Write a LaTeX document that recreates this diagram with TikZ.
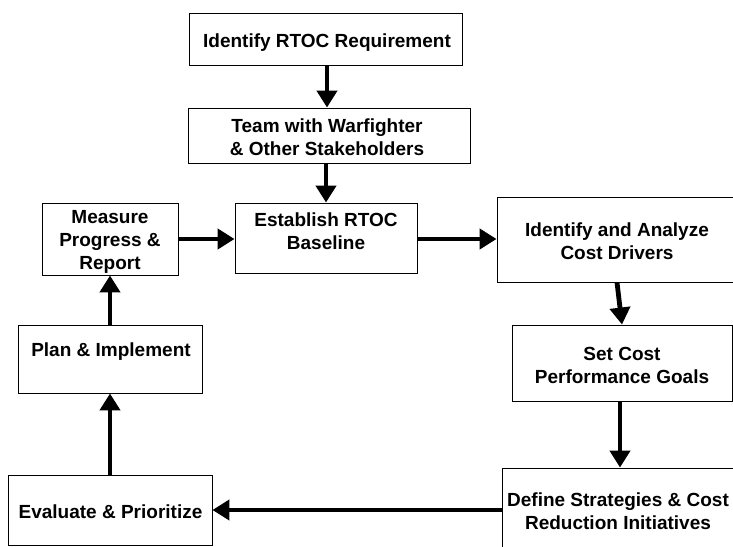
\documentclass[tikz,border=0pt]{standalone}
\usepackage{fontspec}
\setmainfont{Liberation Sans}
\usetikzlibrary{arrows.meta}
\begin{document}
\begin{tikzpicture}[x=1pt,y=1pt,
  box/.style={draw=black, line width=0.9pt, rectangle, inner sep=0pt},
  lbl/.style={align=center, inner sep=0pt, font=\fontsize{19}{23}\selectfont\bfseries},
  arr/.style={line width=4.8pt, -{Triangle[length=17pt,width=20pt]}}]
\useasboundingbox (0,0) rectangle (733,-546);
\clip (0,0) rectangle (733,-546);
% boxes
\node[box, minimum width=273pt, minimum height=52pt] (r1) at (325.5,-39) {};
\node[box, minimum width=282pt, minimum height=55pt] (r2) at (329,-135.5) {};
\node[box, minimum width=182pt, minimum height=70pt] (est) at (326,-238) {};
\node[box, minimum width=136pt, minimum height=72pt] (meas) at (110,-239) {};
\node[box, minimum width=240pt, minimum height=85pt] (ida) at (617,-239.5) {};
\node[box, minimum width=220pt, minimum height=76pt] (sc) at (622,-363) {};
\node[box, minimum width=234pt, minimum height=84pt] (def) at (619,-510) {};
\node[box, minimum width=204pt, minimum height=70pt] (ev) at (110,-510) {};
\node[box, minimum width=184pt, minimum height=68pt] (plan) at (110,-359) {};
% texts
\node[lbl] (r1t) at (327,-42.5) {Identify RTOC Requirement};
\node[lbl] (r2t) at (327,-137) {Team with Warfighter\\\& Other Stakeholders};
\node[lbl] (estt) at (326,-231) {Establish RTOC\\Baseline};
\node[lbl] (meast) at (110,-241.5) {Measure\\Progress \&\\Report};
\node[lbl] (idat) at (617,-241.5) {Identify and Analyze\\Cost Drivers};
\node[lbl] (sct) at (622,-365) {Set Cost\\Performance Goals};
\node[lbl] (deft) at (618,-511) {Define Strategies \& Cost\\Reduction Initiatives};
\node[lbl] (evt) at (110.5,-511.5) {Evaluate \& Prioritize};
\node[lbl] (plant) at (111,-351.5) {Plan \& Implement};
% connectors
\draw[arr] ([xshift=1.5pt]r1.south) -- ([xshift=1.5pt]r1.south |- r2.north);
\draw[arr] (r2.south -| est.north) -- (est.north);
\draw[arr] (meas.east) -- (meas.east -| est.west);
\draw[arr] (est.east |- meas.east) -- (meas.east -| ida.west);
\draw[arr] (ida.south) -- (sc.north);
\draw[arr] ([xshift=-2pt]sc.south) -- ([xshift=-2pt]sc.south |- def.north);
\draw[arr] (def.west) -- (def.west -| ev.east);
\draw[arr] (ev.north) -- (plan.south);
\draw[arr] (plan.north) -- (meas.south);
\end{tikzpicture}
\end{document}
